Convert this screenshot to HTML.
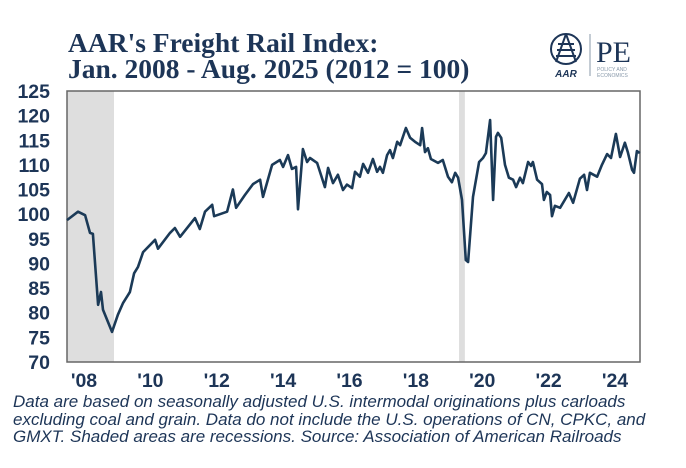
<!DOCTYPE html>
<html><head><meta charset="utf-8"><style>
body{margin:0;background:#fff;width:686px;height:468px;overflow:hidden;font-family:"Liberation Sans",sans-serif}
.t{position:absolute;left:68px;top:30px;font-family:"Liberation Serif",serif;font-weight:bold;font-size:27.5px;line-height:26px;color:#1d3557;white-space:nowrap}
.f{position:absolute;left:13px;top:393px;font-style:italic;font-size:17px;line-height:17.5px;color:#1d3557;white-space:nowrap}
</style></head><body>
<div class="t">AAR's Freight Rail Index:<br>Jan. 2008 - Aug. 2025 (2012 = 100)</div>
<svg width="686" height="468" style="position:absolute;left:0;top:0">
<g id="logo">
<circle cx="566" cy="49" r="15" fill="none" stroke="#1d3557" stroke-width="2"/>
<path d="M566 34 L556 62 M566 34 L576 62 M558 44 H574 M557 50 H575 M556 56 H576" stroke="#1d3557" stroke-width="2" fill="none"/>
<text x="566" y="77" font-size="10" font-style="italic" font-weight="bold" fill="#1d3557" text-anchor="middle">AAR</text>
<line x1="590" y1="34" x2="590" y2="76" stroke="#8899aa" stroke-width="1"/>
<text x="596" y="62" font-family="Liberation Serif" font-size="30" fill="#1d3557">PE</text>
<text x="597" y="71" font-size="5" fill="#8899aa">POLICY AND</text>
<text x="597" y="77" font-size="5" fill="#8899aa">ECONOMICS</text>
</g>
<g id="plot"></g>
</svg>
<div class="f">Data are based on seasonally adjusted U.S. intermodal originations plus carloads<br>excluding coal and grain. Data do not include the U.S. operations of CN, CPKC, and<br>GMXT. Shaded areas are recessions. Source: Association of American Railroads</div>
<script>
const yearsSince2008=[0,.34,.56,.71,.80,.96,1.05,1.11,1.39,1.57,1.73,1.94,2.07,2.19,2.35,2.72,2.81,3.18,3.33,3.49,3.95,4.10,4.26,4.48,4.54,4.94,5.12,5.22,5.49,5.74,5.96,6.05,6.33,6.57,6.67,6.82,6.94,7.07,7.13,7.28,7.41,7.50,7.72,7.96,8.06,8.21,8.36,8.52,8.64,8.80,8.89,9.04,9.14,9.29,9.44,9.57,9.66,9.75,9.88,9.97,10.06,10.19,10.28,10.46,10.59,10.74,10.90,10.96,11.05,11.14,11.23,11.45,11.60,11.76,11.88,11.98,12.07,12.19,12.31,12.38,12.53,12.72,12.84,12.93,13.06,13.15,13.24,13.30,13.40,13.52,13.64,13.77,13.86,13.98,14.07,14.23,14.32,14.38,14.51,14.66,14.72,14.81,14.91,14.97,15.06,15.22,15.49,15.62,15.83,15.96,16.05,16.14,16.36,16.51,16.67,16.79,16.94,17.07,17.22,17.31,17.44,17.50,17.59,17.68];
const indexValues=[98.8,100.5,99.8,96.2,96,81.6,84.2,80.6,76.1,79.6,82,84.2,88,89.3,92.3,94.8,93,96.2,97.2,95.4,99.2,97,100.5,101.9,99.6,100.5,105,101.3,103.9,106.1,107,103.5,110,111,109.6,112,109.2,109.6,101,113.2,110.6,111.4,110.4,105.5,109.4,106.3,108,104.9,106,105.3,108.6,107.6,110.2,108.4,111.2,108.6,109.6,108.4,112,113,111.4,114.7,114,117.5,115.5,114.7,114,117.5,112.6,113.4,111.2,110.4,111,107.6,106.5,108.4,107.4,102.9,90.7,90.3,103.5,110.6,111.4,112.4,119.1,102.9,115.7,116.5,115.5,110,107.4,107,105.5,107.4,106.3,110.6,109.8,110.6,107,106.1,102.9,104.5,103.9,99.6,101.7,101.3,104.3,102.3,107.2,108,104.9,108.4,107.6,110,112.2,111.4,116.3,111.6,114.5,112.6,109,108.4,112.8,112.4];
const recessionStarts=[0,12.1];
const recessionEnds=[1.45,12.28];
const yTicks=[125,120,115,110,105,100,95,90,85,80,75,70];
const xTickLabels=["'08","'10","'12","'14","'16","'18","'20","'22","'24"];
const xTickYears=[2008,2010,2012,2014,2016,2018,2020,2022,2024];
const L=67,R=640,T=91,B=362;
const xS=t=>L+t*32.4;
const yS=v=>T+(125-v)*(B-T)/55;
const labelX=yr=>84+(yr-2008)*(615-84)/16;
const NS="http://www.w3.org/2000/svg";
const g=document.getElementById('plot');
function mk(tag,a){const e=document.createElementNS(NS,tag);for(const k in a)e.setAttribute(k,a[k]);g.appendChild(e);return e;}
recessionStarts.forEach((s,i)=>{
 const r=mk('rect',{x:xS(s),y:T,width:xS(recessionEnds[i])-xS(s),height:B-T,fill:'#dedede'});
 
 
});
const fr=mk('rect',{x:L,y:T,width:R-L,height:B-T,fill:'none',stroke:'#666','stroke-width':1.5});


yTicks.forEach(v=>{
 const t=mk('text',{x:50,y:yS(v)+7,'text-anchor':'end','font-size':19.5,'font-weight':'bold',fill:'#1d3557'});
 t.textContent=v;
 
 
});
xTickYears.forEach((yr,i)=>{
 const t=mk('text',{x:labelX(yr),y:387,'text-anchor':'middle','font-size':19.5,'font-weight':'bold',fill:'#1d3557'});
 t.textContent=xTickLabels[i];
 
 
});
const d=yearsSince2008.map((t,i)=>(i?'L':'M')+xS(t).toFixed(1)+' '+yS(indexValues[i]).toFixed(1)).join(' ');
const p=mk('path',{d:d,fill:'none',stroke:'#1b3a57','stroke-width':2.6,'stroke-linejoin':'round'});


</script>
</body></html>
